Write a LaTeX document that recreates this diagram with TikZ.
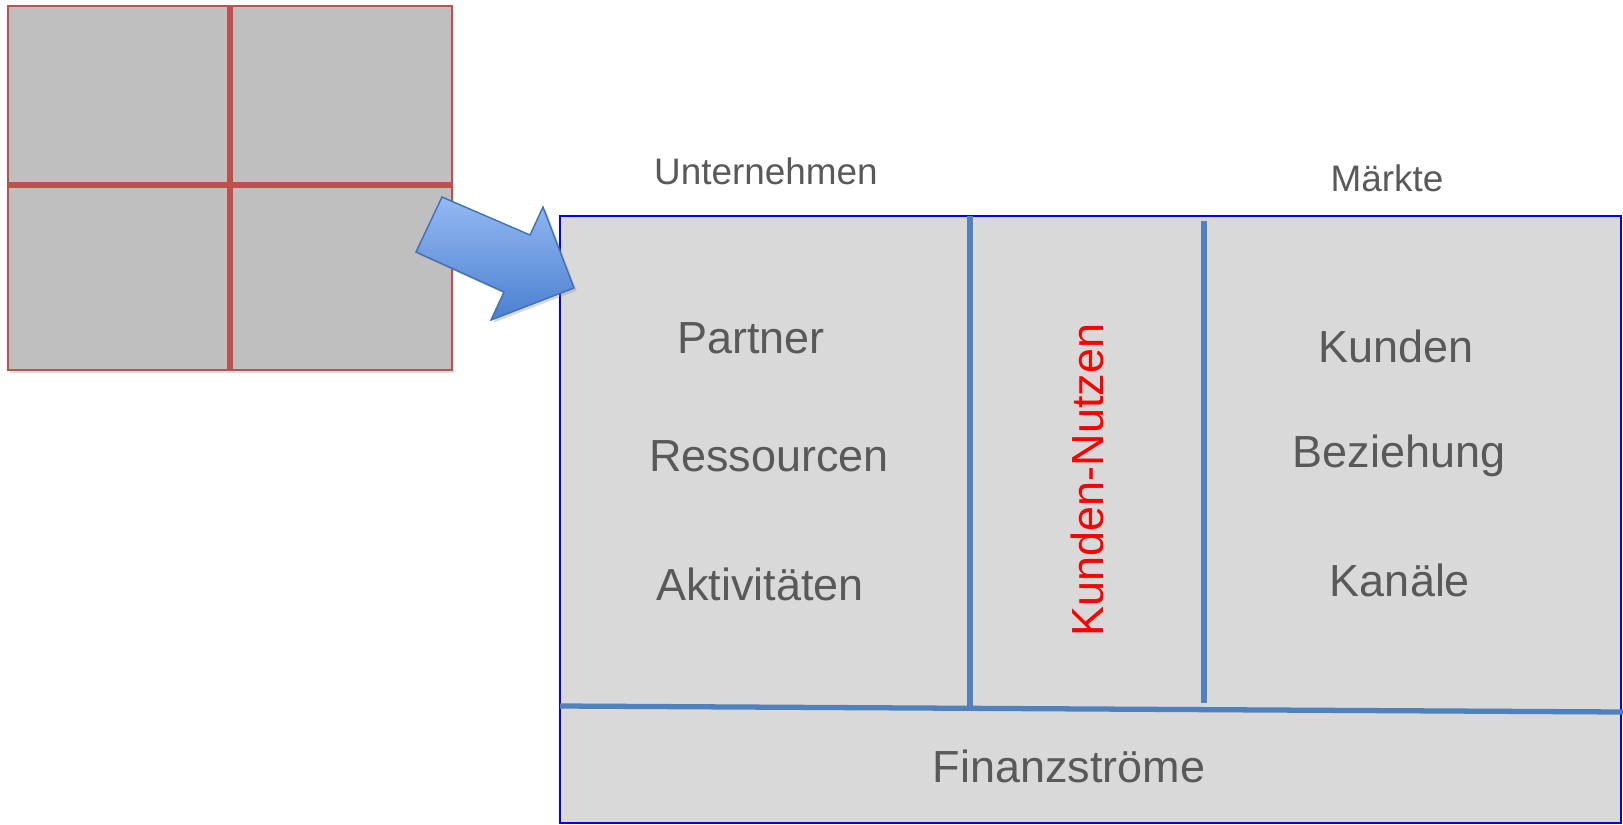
\documentclass[tikz,border=0pt]{standalone}
\usepackage{fontspec}
\setmainfont{Liberation Sans}
\usetikzlibrary{shadows}

\definecolor{gridred}{HTML}{C0504D}
\definecolor{gridfill}{HTML}{BFBFBF}
\definecolor{canvasfill}{HTML}{D9D9D9}
\definecolor{splitblue}{HTML}{4F81BD}
\definecolor{textgray}{HTML}{595959}
\definecolor{arrowlight}{HTML}{95B9F2}
\definecolor{arrowdark}{HTML}{4A80D0}
\definecolor{arrowedge}{HTML}{3F72B5}

\tikzset{
  blocktext/.style={text=textgray,font=\fontsize{25.6}{30}\selectfont},
  sidetitle/.style={text=textgray,font=\fontsize{21}{25}\selectfont},
  splitline/.style={draw=splitblue,line width=3pt},
  gridline/.style={draw=gridred,line width=3.6pt}
}

\begin{document}
\begin{tikzpicture}[x=0.02cm,y=-0.02cm]
\useasboundingbox (0,0) rectangle (1623,825);

% small grid
\filldraw[fill=gridfill,draw=gridred,line width=1.1pt,
  drop shadow={opacity=0.25,shadow xshift=1pt,shadow yshift=-1.5pt}] (8,6) rectangle (452,370);
\draw[gridline] (230,6)--(230,370);
\draw[gridline] (8,185)--(452,185);

% canvas
\filldraw[fill=canvasfill,draw=blue,line width=1.1pt] (560,216) rectangle (1621,823);
\draw[splitline] (970,216)--(970,708);
\draw[splitline] (1204,221)--(1204,703);
\draw[splitline] (560,706)--(1623,712);

\node[sidetitle] (firm) at (766,171) {Unternehmen};
\node[sidetitle] (market) at (1387,178) {Märkte};

\node[blocktext] (partner) at (751,338) {Partner};
\node[blocktext] (resource) at (769,456) {Ressourcen};
\node[blocktext] (activity) at (760,584) {Aktivitäten};

\node[blocktext,text=red,rotate=90] (value) at (1087,480) {Kunden-Nutzen};

\node[blocktext] (customer) at (1396,346) {Kunden};
\node[blocktext] (relation) at (1399,456) {Beziehung};
\node[blocktext] (channel) at (1400,580) {Kanäle};

\node[blocktext] (finance) at (1069,766) {Finanzströme};

% arrow
\shade[top color=arrowlight,bottom color=arrowdark,draw=arrowedge,line width=0.8pt,
  drop shadow={opacity=0.3,shadow xshift=1.5pt,shadow yshift=-1.5pt}]
  (442,197)--(530,235)--(543,207)--(574,288)--(491,320)--(504,292)--(416,252)--cycle;

\end{tikzpicture}
\end{document}
